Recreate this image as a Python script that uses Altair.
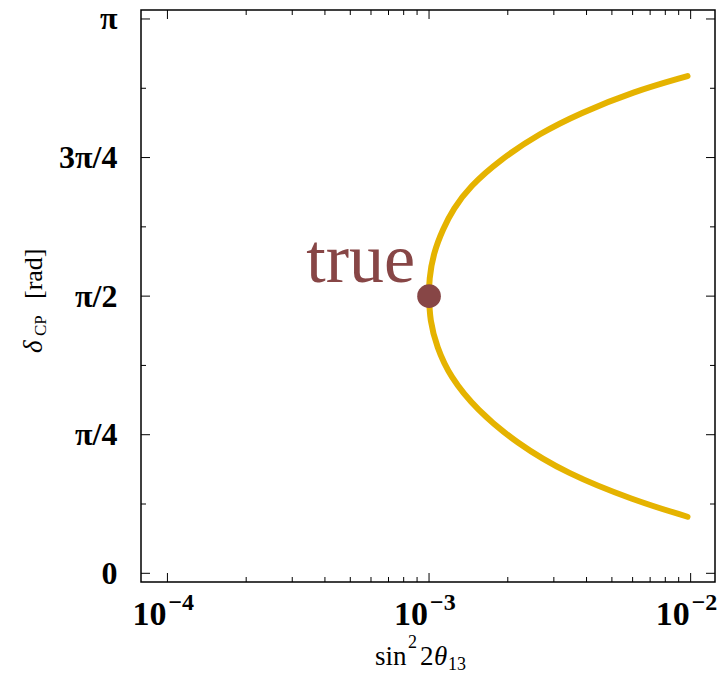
import json
import altair as alt
import pandas as pd

# ---- data ----
upper_x = [0.001000, 0.001000, 0.001038, 0.001132, 0.001236, 0.001432, 0.001866, 0.002655, 0.003776, 0.006039, 0.009727]
upper_y = [0.500, 0.529, 0.577, 0.622, 0.657, 0.698, 0.746, 0.794, 0.830, 0.869, 0.897]   # delta_CP / pi
lower_x = [0.001000, 0.001007, 0.001069, 0.001202, 0.001521, 0.002163, 0.003357, 0.006039, 0.009727]
lower_y = [0.500, 0.457, 0.409, 0.355, 0.295, 0.2345, 0.180, 0.132, 0.102]                # delta_CP / pi

true_x = [0.001]
true_y = [0.5]
true_label = ["true"]

x_tick_values = [1e-4, 1e-3, 1e-2]
x_tick_base = ["10", "10", "10"]
x_tick_exponents = ["−4", "−3", "−2"]
x_minor_ticks = [2e-4, 3e-4, 4e-4, 5e-4, 6e-4, 7e-4, 8e-4, 9e-4,
                 2e-3, 3e-3, 4e-3, 5e-3, 6e-3, 7e-3, 8e-3, 9e-3]
y_tick_values = [0.0, 0.25, 0.5, 0.75, 1.0]
y_tick_labels = ["0", "π/4", "π/2", "3π/4", "π"]
y_minor_ticks = [0.125, 0.375, 0.625, 0.875]

# axis titles, written in pieces (text, size, style, offset x, baseline y) to mimic sub/superscripts
x_title_parts = [("sin", 27, "normal", 234, 655), ("2", 18, "normal", 267, 638),
                 ("2", 27, "normal", 279, 655), ("θ", 27, "italic", 293, 655),
                 ("13", 18, "normal", 307, 660)]
y_title_parts = [("δ", 27, "italic", -99, 343), ("CP", 17, "normal", -95, 326),
                 ("[rad]", 26, "normal", -99, 289)]

# ---- build tables ----
curve = pd.DataFrame({
    "x": list(reversed(lower_x)) + upper_x[1:],
    "y": list(reversed(lower_y)) + upper_y[1:],
})
curve["order"] = range(len(curve))
truth = pd.DataFrame({"x": true_x, "y": true_y, "label": true_label})
xlab = pd.DataFrame({"x": x_tick_values, "base": x_tick_base, "exp": x_tick_exponents})

W, H = 574, 572
SERIF = "Liberation Serif"
LINE_COLOR = "#E5B300"
DOT_COLOR = "#874646"

xs = alt.Scale(type="log", domain=[7.925e-5, 1.239e-2], nice=False)
ys = alt.Scale(domain=[-0.0157, 1.0162], nice=False, zero=False)

y_expr = json.dumps(y_tick_labels, ensure_ascii=False) + "[round(datum.value*4)]"

x_axis = alt.Axis(values=x_tick_values, labels=False, ticks=False, domain=False, grid=False, title=None)
y_axis = alt.Axis(values=y_tick_values, labelExpr=y_expr, ticks=False, domain=False, grid=False,
                  labelFont=SERIF, labelFontWeight="bold", labelFontSize=32, labelColor="black",
                  labelPadding=24, labelFlush=False, labelOverlap=False, title=None)

X = alt.X("x:Q", scale=xs, axis=x_axis)
Y = alt.Y("y:Q", scale=ys, axis=y_axis)

line = alt.Chart(curve).mark_line(color=LINE_COLOR, strokeWidth=6, strokeCap="round",
                                  interpolate="basis").encode(x=X, y=Y, order="order:Q")

dot = alt.Chart(truth).mark_point(filled=True, size=560, opacity=1, color=DOT_COLOR).encode(x=X, y=Y)
label = alt.Chart(truth).mark_text(font=SERIF, fontSize=70, color=DOT_COLOR, align="right",
                                   baseline="alphabetic", dx=-14, dy=-14).encode(
    x=X, y=Y, text="label:N")

# x tick labels: "10" with a raised exponent
xl_base = alt.Chart(xlab).mark_text(font=SERIF, fontWeight="bold", fontSize=34, color="black",
                                    align="right", baseline="alphabetic", dx=-1).encode(
    x=X, y=alt.value(615), text="base:N")
xl_exp = alt.Chart(xlab).mark_text(font=SERIF, fontWeight="bold", fontSize=24, color="black",
                                   align="left", baseline="alphabetic", dx=1).encode(
    x=X, y=alt.value(600), text="exp:N")

# tick marks drawn inside the frame
yt = pd.DataFrame({"y": y_tick_values + y_minor_ticks,
                   "len": [9] * len(y_tick_values) + [5] * len(y_minor_ticks)})
xt = pd.DataFrame({"x": x_tick_values + x_minor_ticks,
                   "len": [9] * len(x_tick_values) + [5] * len(x_minor_ticks)})

def yticks(right):
    layers = []
    for L in sorted(set(yt["len"])):
        d = yt[yt["len"] == L]
        x0, x1 = (W, W - L) if right else (0, L)
        layers.append(alt.Chart(d).mark_rule(color="black", strokeWidth=1).encode(
            y=Y, x=alt.value(x0), x2=alt.value(x1)))
    return layers

def xticks(top):
    layers = []
    for L in sorted(set(xt["len"])):
        d = xt[xt["len"] == L]
        y0, y1 = (0, L) if top else (H, H - L)
        layers.append(alt.Chart(d).mark_rule(color="black", strokeWidth=1).encode(
            x=X, y=alt.value(y0), y2=alt.value(y1)))
    return layers

tick_layers = yticks(False) + yticks(True) + xticks(False) + xticks(True)

one = alt.Data(values=[{"a": 1}])
xtitle = [alt.Chart(one).mark_text(text=t, font=SERIF, fontStyle=st, fontSize=fs, align="left",
                                   baseline="alphabetic", color="black").encode(
              x=alt.value(px), y=alt.value(py)) for t, fs, st, px, py in x_title_parts]
ytitle = [alt.Chart(one).mark_text(text=t, font=SERIF, fontStyle=st, fontSize=fs, angle=270,
                                   align="left", baseline="alphabetic", color="black").encode(
              x=alt.value(px), y=alt.value(py)) for t, fs, st, px, py in y_title_parts]

chart = alt.layer(line, *tick_layers, dot, label, xl_base, xl_exp, *xtitle, *ytitle).properties(
    width=W, height=H,
    autosize=alt.AutoSizeParams(type="none"),
    padding={"left": 141, "top": 10, "right": 6, "bottom": 91},
    background="white",
).configure_view(stroke="black", strokeWidth=1.5)

chart.save("out.html", embed_options={"renderer": "svg", "actions": False})
